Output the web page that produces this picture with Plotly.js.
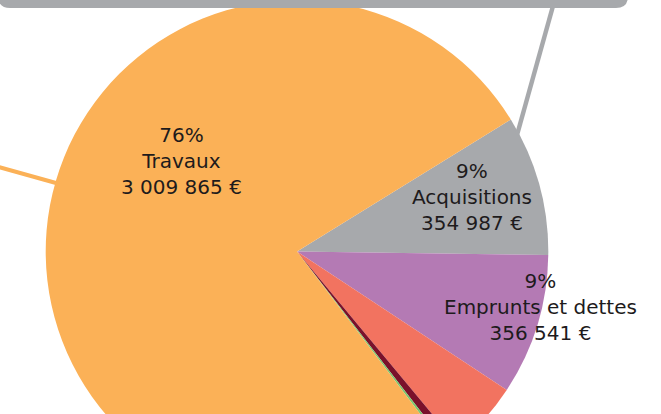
<!DOCTYPE html>
<html>
<head>
<meta charset="utf-8">
<script src="https://cdn.plot.ly/plotly-3.0.1.min.js"></script>
<style>
  html, body { margin: 0; padding: 0; background: #ffffff; overflow: hidden; }
  #chart { width: 661px; height: 503px; }
</style>
</head>
<body>
<div id="chart"></div>
<script>
// budget categories, in clockwise order starting at the Acquisitions slice
var labels = ['Acquisitions', 'Emprunts et dettes', 'Subventions', 'Frais financiers', 'Divers', 'Travaux'];
var amounts = [354987, 356541, 184000, 22000, 6500, 3009865];
var percents = ['9%', '9%', '5%', '1%', '0%', '76%'];
var amountText = ['354 987 €', '356 541 €', '184 000 €', '22 000 €', '6 500 €', '3 009 865 €'];
var sliceColors = ['#A7A9AC', '#B47AB4', '#F27360', '#7A112B', '#7CC66E', '#FBB157'];

var W = 661, H = 503;
function px(x) { return x / W; }
function py(y) { return 1 - y / H; }

var data = [{
    type: 'pie',
    labels: labels,
    values: amounts,
    sort: false,
    direction: 'clockwise',
    rotation: 58.3,
    textinfo: 'none',
    hoverinfo: 'skip',
    marker: { colors: sliceColors, line: { width: 0 } },
    domain: { x: [px(45.7), px(548.3)], y: [0, 1] },
    showlegend: false
}];

// where each label block sits (pixel centre); only three are shown in the picture
var labelSpots = { 'Travaux': [181, 161], 'Acquisitions': [472, 197], 'Emprunts et dettes': [540, 307] };
var annotations = [];
labels.forEach(function (name, i) {
    var spot = labelSpots[name];
    if (!spot) return;
    annotations.push({
        xref: 'paper', yref: 'paper',
        x: px(spot[0]), y: py(spot[1]),
        xanchor: 'center', yanchor: 'middle',
        showarrow: false,
        align: 'center',
        text: percents[i] + '<br>' + name + '<br>' + amountText[i],
        font: { family: 'DejaVu Sans', size: 20, color: '#1E1B1C' }
    });
});

// rounded grey box at the top
var bx0 = -2, bx1 = 628, by = 8, rr = 12;
var boxPath = 'M ' + px(bx0) + ',' + py(-40) +
    ' L ' + px(bx1) + ',' + py(-40) +
    ' L ' + px(bx1) + ',' + py(by - rr) +
    ' Q ' + px(bx1) + ',' + py(by) + ' ' + px(bx1 - rr) + ',' + py(by) +
    ' L ' + px(bx0 + rr) + ',' + py(by) +
    ' Q ' + px(bx0) + ',' + py(by) + ' ' + px(bx0) + ',' + py(by - rr) + ' Z';

var shapes = [
    { type: 'line', xref: 'paper', yref: 'paper', layer: 'above',
      x0: px(553), y0: py(6), x1: px(517), y1: py(135),
      line: { color: '#A7A9AC', width: 4.5 } },
    { type: 'line', xref: 'paper', yref: 'paper', layer: 'above',
      x0: px(-5), y0: py(166), x1: px(56), y1: py(183),
      line: { color: '#FBB157', width: 4 } },
    { type: 'path', xref: 'paper', yref: 'paper', layer: 'above',
      path: boxPath, fillcolor: '#A7A9AC', line: { width: 0 } }
];

var layout = {
    width: W, height: H,
    margin: { l: 0, r: 0, t: 0, b: 0 },
    paper_bgcolor: '#ffffff',
    plot_bgcolor: '#ffffff',
    annotations: annotations,
    shapes: shapes
};

Plotly.newPlot('chart', data, layout, { displayModeBar: false, staticPlot: true });
</script>
</body>
</html>
